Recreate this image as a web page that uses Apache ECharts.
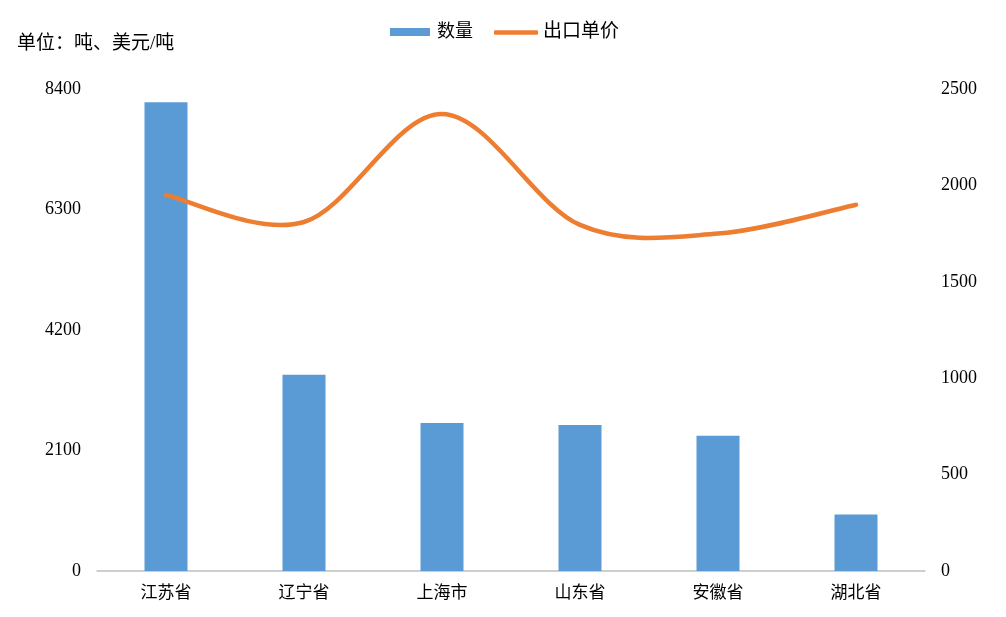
<!DOCTYPE html>
<html>
<head>
<meta charset="utf-8">
<script src="https://cdn.jsdelivr.net/npm/echarts@6/dist/echarts.min.js"></script>
<style>html,body{margin:0;padding:0;background:#fff;}#c{width:1006px;height:617px;}</style>
</head>
<body>
<div id="c"></div>
<script>
var categories = ['江苏省', '辽宁省', '上海市', '山东省', '安徽省', '湖北省'];
var quantity = [8170, 3420, 2580, 2545, 2355, 985];
var unitPrice = [1950, 1810, 2370, 1795, 1750, 1900];
var leftTicks = [0, 2100, 4200, 6300, 8400];
var rightTicks = [0, 500, 1000, 1500, 2000, 2500];

var serif = '"Liberation Serif", "Times New Roman", "Noto Sans CJK SC", serif';
var lineColor = '#ED7D31';

// Smooth (Catmull-Rom style, like Excel's smoothed line) through the data points,
// positioned via the chart's own axes (api.coord).
function renderSmoothLine(params, api) {
  if (params.dataIndex !== 0) return null;
  var pts = [];
  for (var i = 0; i < unitPrice.length; i++) {
    pts.push(api.coord([i, unitPrice[i]]));
  }
  var d = 'M' + pts[0][0] + ' ' + pts[0][1];
  for (var k = 0; k < pts.length - 1; k++) {
    var p0 = pts[k - 1] || pts[k];
    var p1 = pts[k];
    var p2 = pts[k + 1];
    var p3 = pts[k + 2] || pts[k + 1];
    var t = 1 / 6;
    var c1x = p1[0] + (p2[0] - p0[0]) * t, c1y = p1[1] + (p2[1] - p0[1]) * t;
    var c2x = p2[0] - (p3[0] - p1[0]) * t, c2y = p2[1] - (p3[1] - p1[1]) * t;
    d += ' C' + c1x + ' ' + c1y + ' ' + c2x + ' ' + c2y + ' ' + p2[0] + ' ' + p2[1];
  }
  return {
    type: 'path',
    shape: { pathData: d },
    style: { fill: 'none', stroke: lineColor, lineWidth: 4.5, lineCap: 'round', lineJoin: 'round' }
  };
}

var chart = echarts.init(document.getElementById('c'));
chart.setOption({
  animation: false,
  backgroundColor: '#fff',
  title: {
    text: '单位：吨、美元/吨',
    left: 12, top: 30,
    textStyle: { fontFamily: serif, fontSize: 19, fontWeight: 'normal', color: '#000' }
  },
  legend: [{
    data: [{ name: '数量', icon: 'rect' }],
    left: 390, top: 23, padding: 0,
    itemWidth: 40, itemHeight: 8, itemGap: 20,
    textStyle: { fontFamily: serif, fontSize: 18, color: '#000', padding: [0, 0, 0, 2] }
  }, {
    data: [{ name: '出口单价', icon: 'roundRect' }],
    left: 494, top: 23, padding: 0,
    itemWidth: 44, itemHeight: 4.5,
    textStyle: { fontFamily: serif, fontSize: 19, color: '#000' }
  }],
  grid: { left: 97, right: 81, top: 89, bottom: 46 },
  xAxis: {
    type: 'category',
    data: categories,
    axisLine: { lineStyle: { color: '#BFBFBF', width: 1.5 } },
    axisTick: { show: false },
    axisLabel: { fontFamily: serif, fontSize: 17, color: '#000', margin: 14 }
  },
  yAxis: [{
    type: 'value',
    min: leftTicks[0], max: leftTicks[leftTicks.length - 1], interval: 2100,
    splitLine: { show: false },
    axisLine: { show: false }, axisTick: { show: false },
    axisLabel: { fontFamily: serif, fontSize: 18, color: '#000', margin: 16, formatter: function (v) { return String(v); } }
  }, {
    type: 'value',
    min: rightTicks[0], max: rightTicks[rightTicks.length - 1], interval: 500,
    splitLine: { show: false },
    axisLine: { show: false }, axisTick: { show: false },
    axisLabel: { fontFamily: serif, fontSize: 18, color: '#000', margin: 16, formatter: function (v) { return String(v); } }
  }],
  series: [{
    name: '数量',
    type: 'bar',
    data: quantity,
    barWidth: 43,
    z: 2,
    itemStyle: { color: '#5B9BD5' }
  }, {
    name: '出口单价',
    type: 'custom',
    yAxisIndex: 1,
    z: 5,
    data: unitPrice.map(function (v, i) { return [i, v]; }),
    encode: { x: 0, y: 1 },
    renderItem: renderSmoothLine,
    itemStyle: { color: lineColor },
    clip: false
  }]
});
</script>
</body>
</html>
